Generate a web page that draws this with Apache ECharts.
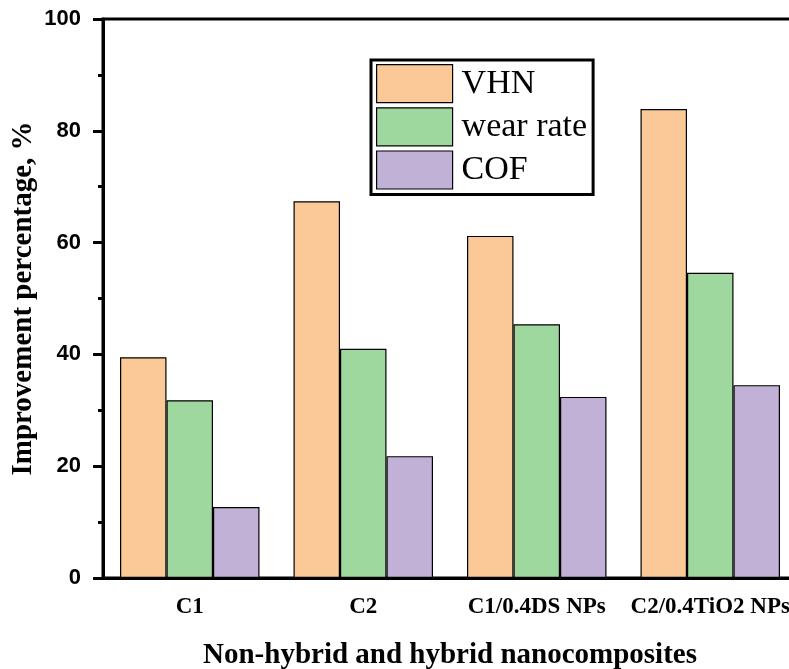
<!DOCTYPE html>
<html><head><meta charset="utf-8">
<script src="https://cdn.jsdelivr.net/npm/echarts@6/dist/echarts.min.js"></script>
<style>html,body{margin:0;padding:0;background:#fff}#c{width:789px;height:669px}</style>
</head><body><div id="c"></div>
<script>
const categories = ['C1', 'C2', 'C1/0.4DS NPs', 'C2/0.4TiO2 NPs'];
const vhn = [39.5, 67.4, 61.2, 83.9];
const wearRate = [31.8, 41.0, 45.4, 54.6];
const cof = [12.7, 21.8, 32.4, 34.5];
const yTicks = [0, 20, 40, 60, 80, 100];

const chart = echarts.init(document.getElementById('c'));
const serif = 'Liberation Serif';
const barStyle = c => ({ color: c, borderColor: '#000', borderWidth: 1.2 });
chart.setOption({
  animation: false,
  grid: { left: 103, right: -8, top: 19, bottom: 91, show: true, borderColor: '#000', borderWidth: 3,
    containLabel: false, outerBoundsMode: 'none' },
  legend: {
    orient: 'vertical', left: 371, top: 60, padding: [4, 6, 5, 5],
    itemWidth: 76, itemHeight: 38, itemGap: 4, icon: 'rect',
    borderColor: '#000', borderWidth: 3, backgroundColor: '#fff',
    textStyle: { fontFamily: serif, fontSize: 34, color: '#000', padding: [0, 0, 0, 4] },
    itemStyle: { borderColor: '#000', borderWidth: 1.2 },
    data: ['VHN', 'wear rate', 'COF']
  },
  xAxis: {
    type: 'category', data: categories,
    axisLine: { lineStyle: { color: '#000', width: 3 } },
    axisTick: { alignWithLabel: true, length: 8, lineStyle: { width: 3, color: '#000' } },
    axisLabel: { fontFamily: serif, fontWeight: 'bold', fontSize: 23, color: '#000', margin: 18, interval: 0 },
    name: 'Non-hybrid and hybrid nanocomposites', nameLocation: 'middle', nameGap: 63,
    nameTextStyle: { fontFamily: serif, fontWeight: 'bold', fontSize: 29, color: '#000' }
  },
  yAxis: {
    type: 'value', min: 0, max: 100, interval: 20,
    axisLine: { show: true, lineStyle: { color: '#000', width: 3 } },
    axisTick: { show: true, length: 10, lineStyle: { width: 3, color: '#000' } },
    minorTick: { show: true, splitNumber: 2, length: 5, lineStyle: { width: 3, color: '#000' } },
    splitLine: { show: false },
    axisLabel: { fontFamily: 'Liberation Sans', fontWeight: 'bold', fontSize: 22, color: '#000', margin: 22,
      formatter: v => yTicks.includes(v) ? String(v) : '' },
    name: 'Improvement percentage, %', nameLocation: 'middle', nameGap: 65, nameMoveOverlap: false,
    nameTextStyle: { fontFamily: serif, fontWeight: 'bold', fontSize: 29, color: '#000' }
  },
  series: [
    { name: 'VHN', type: 'bar', data: vhn, barGap: '0%', barCategoryGap: '19.6%', itemStyle: barStyle('#FBC897') },
    { name: 'wear rate', type: 'bar', data: wearRate, itemStyle: barStyle('#9FD89E') },
    { name: 'COF', type: 'bar', data: cof, itemStyle: barStyle('#C1B1D6') }
  ]
});
</script></body></html>
